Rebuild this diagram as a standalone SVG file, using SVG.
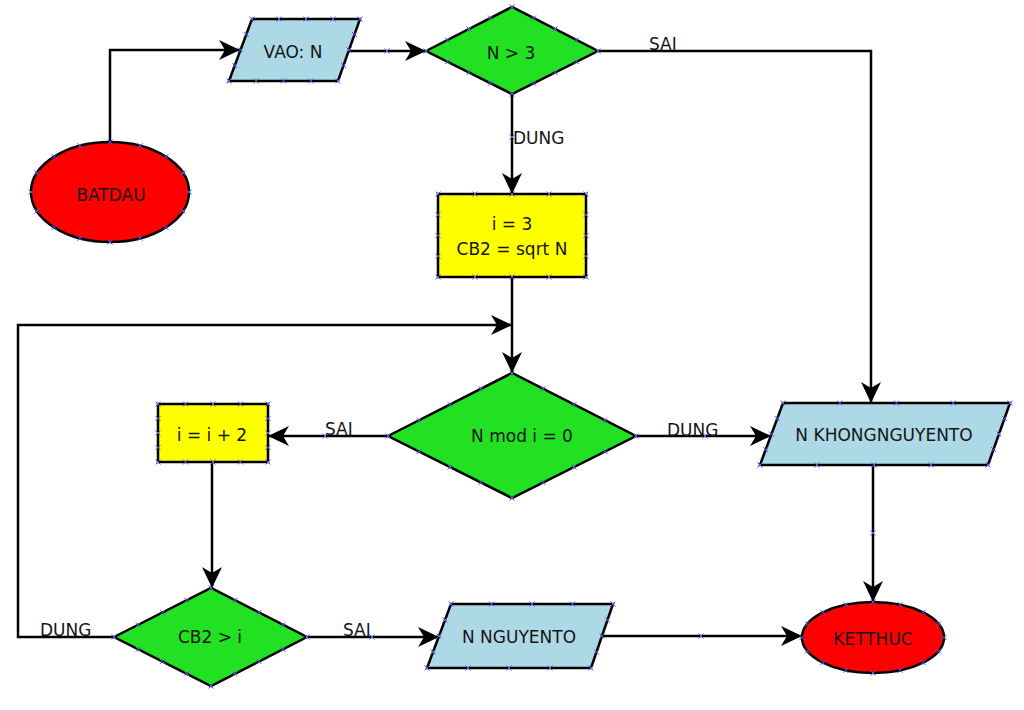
<svg xmlns="http://www.w3.org/2000/svg" width="1024" height="710" viewBox="0 0 1024 710">
<defs>
<marker id="arrow" markerUnits="userSpaceOnUse" viewBox="-23 -12 25 24" markerWidth="25" markerHeight="24" refX="0" refY="0" orient="auto">
<path d="M0,0 L-21,-10 L-15,0 L-21,10 Z" fill="#000"/>
</marker>
<marker id="cp" markerUnits="userSpaceOnUse" viewBox="-4 -4 8 8" markerWidth="8" markerHeight="8" refX="0" refY="0" orient="0">
<path d="M-2.5,-2.5 L2.5,2.5 M2.5,-2.5 L-2.5,2.5" stroke="#5a5ae6" stroke-width="1" fill="none"/>
</marker>
</defs>
<style>
.shape{stroke:#000;stroke-width:2.5}
.red{fill:#ff0000}
.green{fill:#22e022}
.blue{fill:#add8e6}
.yellow{fill:#ffff00}
.t{font-family:"DejaVu Sans",Verdana,sans-serif;font-size:17px;fill:#151515;text-anchor:middle}
.lbl{font-family:"DejaVu Sans",Verdana,sans-serif;font-size:17px;fill:#151515}
.conn{fill:none;stroke:#000;stroke-width:2.5}
.arr{marker-end:url(#arrow)}
.cps{fill:none;stroke:none;marker-start:url(#cp);marker-mid:url(#cp);marker-end:url(#cp)}
</style>
<rect width="1024" height="710" fill="#fff"/>

<g id="connectors">
<path class="conn arr" d="M110,142 V50 H240"/>
<path class="conn arr" d="M349,51 H426"/>
<path class="conn arr" d="M598,51 H871 V403"/>
<path class="conn arr" d="M512,94 V194"/>
<path class="conn arr" d="M512,277 V373"/>
<path class="conn arr" d="M388,436 H268"/>
<path class="conn arr" d="M636,436 H771"/>
<path class="conn arr" d="M873,465 V602"/>
<path class="conn arr" d="M212,462 V588"/>
<path class="conn arr" d="M114,637 H18 V325 H512"/>
<path class="conn arr" d="M307,637 H439"/>
<path class="conn arr" d="M603,636 H802"/>
<polyline class="cps" points="387,51 512,137 325,436 705,436 372,637 701,636 873,533"/>
<text class="lbl" x="649" y="50">SAI</text>
<text class="lbl" x="513" y="144">DUNG</text>
<text class="lbl" x="325" y="435">SAI</text>
<text class="lbl" x="667" y="436">DUNG</text>
<text class="lbl" x="40" y="636">DUNG</text>
<text class="lbl" x="343" y="636">SAI</text>
</g>

<g id="batdau">
<ellipse class="shape red" cx="110" cy="192" rx="79" ry="50"/>
<polyline class="cps" points="189,192 183,211.1 165.9,227.4 140.2,238.2 110,242 79.8,238.2 54.1,227.4 37,211.1 31,192 37,172.9 54.1,156.6 79.8,145.8 110,142 140.2,145.8 165.9,156.6 183,172.9"/>
<text class="t" x="111" y="201">BATDAU</text>
</g>

<g id="vao">
<polygon class="shape blue" points="252,19 360,19 338,81 229,81"/>
<polyline class="cps" points="252,19 279,19 306,19 333,19 360,19 354.5,34.5 349,50 343.5,65.5 338,81 310.75,81 283.5,81 256.25,81 229,81 234.75,65.5 240.5,50 246.25,34.5"/>
<text class="t" x="293" y="58">VAO: N</text>
</g>

<g id="n_gt_3">
<polygon class="shape green" points="426,51 512,7 598,51 512,94"/>
<polyline class="cps" points="426,51 447.5,40 469,29 490.5,18 512,7 533.5,18 555,29 576.5,40 598,51 576.5,61.75 555,72.5 533.5,83.25 512,94 490.5,83.25 469,72.5 447.5,61.75"/>
<text class="t" x="511" y="59">N &gt; 3</text>
</g>

<g id="init">
<rect class="shape yellow" x="438" y="194" width="148" height="83"/>
<polyline class="cps" points="438,194 475,194 512,194 549,194 586,194 586,214.75 586,235.5 586,256.25 586,277 549,277 512,277 475,277 438,277 438,256.25 438,235.5 438,214.75"/>
<text class="t" x="512" y="230">i = 3</text>
<text class="t" x="512" y="255">CB2 = sqrt N</text>
</g>

<g id="nmod">
<polygon class="shape green" points="388,436 512,373 636,436 512,498"/>
<polyline class="cps" points="388,436 419,420.25 450,404.5 481,388.75 512,373 543,388.75 574,404.5 605,420.25 636,436 605,451.5 574,467 543,482.5 512,498 481,482.5 450,467 419,451.5"/>
<text class="t" x="522" y="442">N mod i = 0</text>
</g>

<g id="incr">
<rect class="shape yellow" x="158" y="404" width="110" height="58"/>
<polyline class="cps" points="158,404 185.5,404 213,404 240.5,404 268,404 268,418.5 268,433 268,447.5 268,462 240.5,462 213,462 185.5,462 158,462 158,447.5 158,433 158,418.5"/>
<text class="t" x="212" y="441">i = i + 2</text>
</g>

<g id="khong">
<polygon class="shape blue" points="783,403 1010,403 988,465 760,465"/>
<polyline class="cps" points="783,403 839.75,403 896.5,403 953.25,403 1010,403 1004.5,418.5 999,434 993.5,449.5 988,465 931,465 874,465 817,465 760,465 765.75,449.5 771.5,434 777.25,418.5"/>
<text class="t" x="884" y="441">N KHONGNGUYENTO</text>
</g>

<g id="cb2">
<polygon class="shape green" points="114,637 211,588 307,637 211,686"/>
<polyline class="cps" points="114,637 138.25,624.75 162.5,612.5 186.75,600.25 211,588 235,600.25 259,612.5 283,624.75 307,637 283,649.25 259,661.5 235,673.75 211,686 186.75,673.75 162.5,661.5 138.25,649.25"/>
<text class="t" x="210" y="643">CB2 &gt; i</text>
</g>

<g id="nguyento">
<polygon class="shape blue" points="451,604 613,604 591,668 427,668"/>
<polyline class="cps" points="451,604 491.5,604 532,604 572.5,604 613,604 607.5,620 602,636 596.5,652 591,668 550,668 509,668 468,668 427,668 433,652 439,636 445,620"/>
<text class="t" x="519" y="643">N NGUYENTO</text>
</g>

<g id="ketthuc">
<ellipse class="shape red" cx="873" cy="637.5" rx="71" ry="35.5"/>
<polyline class="cps" points="944,637.5 938.6,651.1 923.2,662.6 900.2,670.3 873,673 845.8,670.3 822.8,662.6 807.4,651.1 802,637.5 807.4,623.9 822.8,612.4 845.8,604.7 873,602 900.2,604.7 923.2,612.4 938.6,623.9"/>
<text class="t" x="873" y="645">KETTHUC</text>
</g>
</svg>
